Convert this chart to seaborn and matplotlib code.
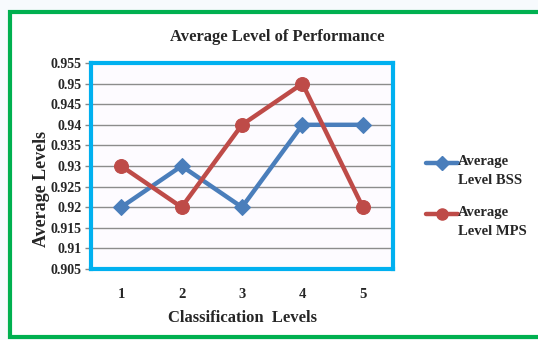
import matplotlib
matplotlib.use("Agg")
import matplotlib.pyplot as plt
from matplotlib.patches import Rectangle
from matplotlib.lines import Line2D
import numpy as np
import pandas as pd
import seaborn as sns

levels = [1, 2, 3, 4, 5]
bss = [0.92, 0.93, 0.92, 0.94, 0.94]
mps = [0.93, 0.92, 0.94, 0.95, 0.92]
y_ticks = [0.905, 0.91, 0.915, 0.92, 0.925, 0.93, 0.935, 0.94, 0.945, 0.95, 0.955]
y_tick_labels = ["0.905", "0.91", "0.915", "0.92", "0.925", "0.93", "0.935",
                 "0.94", "0.945", "0.95", "0.955"]
series_names = ["Average\nLevel BSS", "Average\nLevel MPS"]

sns.set_theme(style="white")
plt.rcParams['font.family'] = ['Liberation Serif', 'DejaVu Serif']
plt.rcParams['font.weight'] = 'bold'

W, H = 538, 340
fig = plt.figure(figsize=(W / 100, H / 100), dpi=100)
fig.patch.set_facecolor("#f7fafd")

# green outer frame, behind everything else
frame = Rectangle((10 / W, 3 / H), 540 / W, 325 / H,
                  transform=fig.transFigure, facecolor="white",
                  edgecolor="#00b050", linewidth=3, zorder=-10)
fig.patches.append(frame)

ax = fig.add_axes([91 / W, 1 - 269 / H, 302 / W, 206 / H])
ax.set_zorder(1)
ax.set_facecolor("#fdfbff")

df = pd.DataFrame({"level": levels, "bss": bss, "mps": mps})
x = np.arange(len(levels))
blue = "#4a7ebb"
red = "#be4b48"
sns.lineplot(x=x, y=df["bss"], ax=ax, color=blue, linewidth=3.2,
             marker="D", markersize=8, markeredgecolor=blue, zorder=3)
sns.lineplot(x=x, y=df["mps"], ax=ax, color=red, linewidth=3.2,
             marker="o", markersize=10, markeredgecolor=red, zorder=4)

ax.set_xlim(-0.5, len(levels) - 0.5)
ax.set_ylim(0.905, 0.955)
ax.set_yticks(y_ticks)
ax.set_yticklabels(y_tick_labels, fontsize=10, fontweight="bold")
ax.set_xticks(x)
ax.set_xticklabels([str(v) for v in levels], fontsize=10.5, fontweight="bold")
ax.set_xticks(np.arange(-0.5, len(levels), 1.0), minor=True)
ax.tick_params(axis="x", which="major", length=0, pad=14)
ax.tick_params(axis="x", which="minor", length=4, direction="out", color="#888888", width=1)
ax.tick_params(axis="y", which="major", length=4, direction="out", color="#888888",
               width=1, pad=3, left=True)
ax.grid(axis="y", color="#8c8c8c", linewidth=1)
ax.set_axisbelow(True)
for s in ax.spines.values():
    s.set_edgecolor("#00b0f0")
    s.set_linewidth(3)

ax.set_xlabel("Classification  Levels", fontsize=12, fontweight="bold", labelpad=6)
ax.set_ylabel("")
fig.text(41 / W, 1 - 189 / H, "Average Levels", rotation=90, ha="center",
         va="center", fontsize=13, fontweight="bold")
fig.text(277 / W, 1 - 37 / H, "Average Level of Performance", ha="center",
         va="center", fontsize=12, fontweight="bold")

# legend: handle aligned with the first line of each two-line label
legend_rows = [(163, blue, "D", 7), (214, red, "o", 8)]
for (ypix, col, mk, ms), name in zip(legend_rows, series_names):
    yf = 1 - ypix / H
    fig.add_artist(Line2D([426 / W, 458 / W], [yf, yf], transform=fig.transFigure,
                          color=col, linewidth=3.2))
    fig.add_artist(Line2D([442 / W], [yf], transform=fig.transFigure,
                          color=col, marker=mk, markersize=ms, linestyle="none"))
    fig.text(458 / W, 1 - (ypix - 8) / H, name, ha="left", va="top",
             fontsize=10.5, fontweight="bold", linespacing=1.65)

fig.savefig("out.png", dpi=100)
